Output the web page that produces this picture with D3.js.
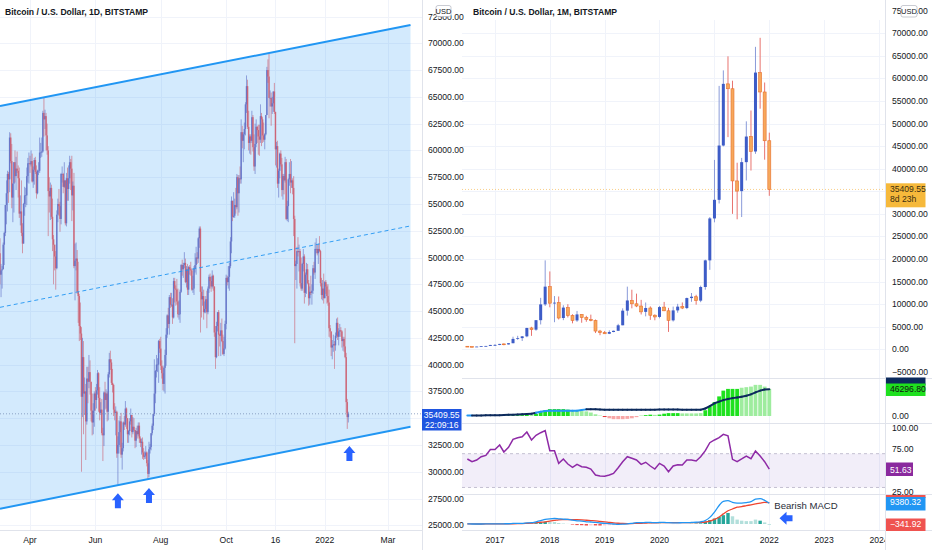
<!DOCTYPE html>
<html>
<head>
<meta charset="utf-8">
<script src="https://cdn.jsdelivr.net/npm/d3@7"></script>
<style>
	body { margin: 0; background: #fff; }
	svg text { font-family: "Liberation Sans Narrow", "Liberation Sans", sans-serif; fill: #131722; }
</style>
</head>
<body>
<svg id="chart" width="932" height="550"></svg>
<script>
// ---------- daily chart data (thousands of USD), 4 Mar 2021 .. 23 Jan 2022 ----------
const dayStart = new Date(2021, 2, 4);
const dayFirstOpen = 50.4;
const dayClose = [
	48.4,48.8,48.9,51.2,52.3,54.9,56.0,57.8,57.3,61.2,59.0,55.6,56.9,58.9,57.6,58.3,58.1,57.4,54.1,54.3,52.3,51.3,55.0,55.8,55.8,57.6,58.8,58.8,
	58.7,59.0,57.1,58.2,59.1,58.0,56.0,58.1,58.1,59.8,59.8,59.9,63.5,62.9,63.2,61.4,60.0,56.2,55.7,56.5,53.8,51.7,51.2,50.1,49.0,54.0,55.0,54.8,53.6,57.8,
	57.8,56.6,57.2,53.2,57.4,56.4,57.4,58.9,58.3,55.8,56.7,49.2,49.7,49.9,46.8,46.4,43.6,42.9,37.0,40.7,37.3,37.5,34.7,38.7,38.4,39.3,38.4,35.7,34.6,35.7,37.3,
	36.7,37.6,39.2,36.9,35.5,35.8,33.6,33.4,37.4,36.7,37.3,35.6,39.1,40.5,40.2,38.3,38.1,35.8,35.5,35.6,31.7,32.5,33.7,34.7,31.6,32.2,34.6,34.4,35.9,35.0,
	33.5,33.8,34.7,35.3,33.7,34.2,33.9,32.9,33.8,33.5,34.3,33.1,32.7,32.8,31.8,31.4,31.5,31.8,30.8,29.8,32.1,32.3,33.6,34.3,35.4,37.3,39.4,40.0,40.0,42.2,41.5,
	39.9,39.2,38.2,39.7,40.9,42.8,44.6,43.8,46.3,45.6,45.6,44.4,47.8,47.1,47.0,45.9,44.7,44.7,46.8,49.3,48.9,49.3,49.5,47.7,48.9,47.0,49.1,48.9,48.8,47.0,47.1,
	49.0,49.3,50.0,49.9,51.8,52.7,46.8,46.1,46.4,44.9,45.2,46.1,44.9,47.1,48.2,47.8,47.3,48.3,47.3,43.0,40.7,43.6,44.9,42.8,42.7,43.2,42.2,41.0,41.5,43.8,
	48.1,47.7,48.2,49.2,51.5,55.3,53.8,53.9,54.9,54.7,57.5,56.0,57.4,57.3,61.7,60.9,61.5,62.0,64.3,66.0,62.2,60.7,61.3,60.9,63.1,60.3,58.5,60.6,62.2,61.9,61.3,
	61.0,63.2,62.9,61.4,61.0,61.5,63.3,67.5,66.9,64.9,64.9,64.1,64.4,65.5,63.6,60.1,60.4,56.9,58.1,59.7,58.7,56.3,57.6,57.2,58.9,53.6,54.8,57.3,57.8,57.0,
	57.2,56.5,53.6,49.2,49.4,50.6,50.5,50.6,47.6,47.1,49.4,50.1,46.7,48.4,48.9,47.6,46.2,46.8,46.7,46.9,49.0,48.6,50.8,50.8,50.4,50.8,50.6,47.6,46.5,47.1,46.2,
	47.7,47.3,46.4,45.8,43.4,43.1,41.6,41.8,41.9,41.8,42.7,43.9,42.6,43.1,43.2,43.1,42.2,42.4,41.7,40.7,36.5,35.1,35.40955
];
const dayHigh = [
	51.8,49.4,49.2,51.4,52.4,54.9,57.2,58.1,58.0,61.7,61.6,60.6,56.9,58.9,60.0,59.4,59.9,58.6,58.4,55.8,57.2,53.2,55.1,56.6,56.5,58.4,59.3,59.8,
	59.5,60.0,59.7,58.5,59.3,59.4,58.6,58.2,58.9,61.2,60.7,61.2,63.7,64.9,63.8,63.5,62.5,60.4,57.5,57.0,56.8,55.5,52.1,51.2,50.6,54.4,55.5,56.4,55.2,57.9,
	58.5,57.9,58.9,57.2,57.9,58.4,58.6,59.5,59.2,59.5,57.1,57.9,51.3,51.4,50.7,49.6,46.6,45.8,43.5,42.5,42.2,38.8,38.2,39.8,39.8,40.9,40.4,38.2,37.3,36.4,37.5,
	37.9,38.2,39.5,39.3,37.9,36.5,36.8,34.1,37.5,38.4,37.7,37.5,39.3,41.1,41.3,40.5,39.6,38.2,36.4,36.1,35.7,33.3,34.8,35.2,35.5,32.7,34.7,35.2,36.6,36.0,
	35.0,33.9,35.0,35.9,35.3,35.1,35.0,33.9,34.1,34.3,34.6,34.6,33.3,33.1,33.2,32.2,31.9,32.4,31.9,31.1,32.8,32.6,33.6,34.5,35.4,40.5,39.5,40.9,40.6,42.3,42.4,
	42.6,40.4,39.8,39.9,41.4,43.4,44.7,45.3,46.5,46.7,46.7,46.2,48.1,48.1,47.4,48.0,47.1,46.0,47.0,49.4,49.8,49.5,50.5,49.9,49.2,49.4,49.2,49.3,49.6,49.0,48.3,
	49.2,50.4,51.0,50.5,51.9,52.9,52.9,47.3,47.3,47.0,45.9,46.4,46.9,47.3,48.4,48.5,48.2,48.8,48.4,47.3,43.6,44.0,44.9,45.1,42.9,43.9,44.3,42.8,42.6,44.1,
	48.4,48.3,49.2,49.5,51.9,55.7,55.3,56.1,55.5,56.5,57.8,57.7,57.7,58.5,62.9,62.3,61.7,62.6,64.5,67.0,66.6,63.7,61.5,61.5,63.7,63.3,61.5,62.5,62.9,62.3,62.4,
	62.4,64.3,63.5,63.1,62.6,61.6,63.3,67.8,68.5,69.0,65.6,65.4,65.0,65.5,66.3,63.6,60.8,60.9,58.3,59.8,60.0,59.3,57.8,57.8,59.4,59.2,55.3,57.4,58.9,59.2,
	59.0,57.4,57.6,53.9,49.7,51.0,51.9,51.2,50.8,50.0,49.5,50.8,50.3,48.6,49.5,49.4,47.9,47.3,48.3,47.5,49.3,49.6,51.4,51.8,51.2,51.3,52.0,50.7,48.1,47.9,48.5,
	47.8,47.9,47.5,47.5,47.0,43.7,43.1,42.3,42.8,42.2,43.0,44.3,44.4,43.4,43.8,43.5,43.2,42.6,42.6,43.4,41.1,36.8,35.6
];
const dayLow = [
	47.5,46.3,47.1,48.9,49.3,52.0,53.1,54.3,55.1,56.1,58.8,54.6,53.3,54.2,57.0,56.3,57.9,55.6,53.7,53.0,52.0,50.4,51.3,53.9,54.7,54.9,57.0,56.9,
	57.9,58.5,57.0,56.5,56.8,57.8,55.5,55.9,57.7,57.9,59.3,59.4,59.8,61.3,62.0,60.0,59.6,52.0,54.2,53.5,53.6,50.6,47.5,48.8,47.0,48.9,53.3,53.9,52.4,53.1,
	57.0,56.0,56.5,53.0,52.9,55.3,55.3,56.9,56.3,53.4,54.4,49.0,46.0,48.8,46.6,43.9,42.2,42.3,30.0,35.1,33.5,35.3,31.1,34.4,36.4,37.8,37.2,34.7,33.4,33.5,34.2,
	35.7,35.9,37.2,35.6,34.8,35.3,33.4,31.0,32.4,35.8,35.9,34.7,34.8,38.8,39.5,38.1,37.4,35.2,34.8,33.4,31.3,28.8,31.7,32.3,31.3,30.2,31.9,33.9,34.2,34.0,
	32.7,32.7,33.4,34.4,33.2,33.5,33.8,32.2,32.3,33.1,33.3,32.7,32.3,31.6,31.2,31.1,31.2,31.2,30.5,29.3,29.5,31.7,32.0,33.4,33.9,35.2,36.4,38.8,39.3,38.3,41.1,
	39.5,38.7,37.6,37.5,37.3,39.9,42.5,43.4,42.8,45.3,45.4,43.8,44.3,45.8,45.5,45.6,44.4,44.2,43.9,46.7,48.3,48.1,49.0,47.6,47.2,46.5,46.5,48.4,48.3,46.9,46.7,
	46.5,48.6,48.4,49.4,49.5,50.9,43.0,44.4,45.5,44.2,44.8,44.8,43.4,44.7,46.7,47.1,46.8,47.1,46.9,42.6,39.6,40.6,43.1,40.8,41.7,40.8,42.1,40.9,40.8,41.4,
	43.3,47.4,47.1,46.9,49.0,50.4,53.4,53.7,53.7,54.1,54.5,53.9,54.2,56.9,56.9,60.2,58.9,60.1,61.4,63.5,62.0,60.0,59.7,59.6,60.7,59.9,58.1,57.8,60.3,60.7,59.6,
	59.5,60.7,60.4,60.7,60.8,60.1,61.4,63.3,66.3,63.0,64.1,62.3,63.4,63.6,63.4,58.6,58.4,56.5,55.6,57.4,58.5,55.7,55.4,55.9,57.0,53.5,53.4,53.3,56.7,56.0,
	56.5,55.9,52.0,42.0,47.9,47.1,50.1,48.7,47.3,46.9,46.9,48.7,45.7,46.3,46.6,47.5,45.5,45.6,46.5,45.6,46.6,48.4,48.0,50.4,50.2,49.4,50.5,47.3,46.1,46.0,45.7,
	46.2,46.6,45.7,45.5,42.6,42.5,40.8,40.5,41.2,39.6,41.3,42.5,42.3,41.8,42.6,42.6,41.6,41.3,41.2,40.6,35.5,34.0,34.6
];

// channel drawn on the daily chart (dates and prices of its two end points)
const channelDates = [new Date(2021, 2, 4), new Date(2022, 2, 22)];
const channelUpper = [64150, 71700];
const channelLower = [26550, 34200];
const arrowTips = [
	{ date: new Date(2021, 5, 22), price: 28000 },
	{ date: new Date(2021, 6, 21), price: 28480 },
	{ date: new Date(2022, 0, 24), price: 32400 }
];
const dayTickDates = [new Date(2021,3,1), new Date(2021,5,1), new Date(2021,7,1), new Date(2021,9,1), new Date(2021,10,16), new Date(2022,0,1), new Date(2022,2,1)];
const dayTickLabels = ['Apr', 'Jun', 'Aug', 'Oct', '16', '2022', 'Mar'];
const dayPriceTicks = d3.range(25000, 72501, 2500);

// ---------- monthly chart data, Jul 2016 .. Jan 2022 ----------
const monthStart = new Date(2016, 6, 1);
const monthOpen = [
	673,624,575,609,701,745,
	964,970,1190,1080,1350,2300,2480,2870,4730,4350,6450,9950,
	13880,10220,10330,6930,9240,7490,6390,7730,7030,6630,6370,4040,
	3690,3440,3830,4100,5320,8560,10820,10080,9590,8290,9150,7550,
	7170,9350,8530,6410,8620,9450,9140,11350,11650,10780,13800,19700,
	28990,33110,45140,58800,57720,37300,35040,41460,47130,43820,61300,57000,
	46200
];
const monthHigh = [
	704,626,628,720,754,980,
	1153,1200,1290,1370,2790,2990,2930,4750,4980,6470,11400,19700,
	17250,11790,11700,9760,10000,7770,8500,7760,7420,7680,6600,4300,
	4070,4200,4140,5640,9080,13880,13200,12330,10950,10370,9510,7750,
	9600,10500,9180,9460,10070,10380,11450,12470,12080,14100,19860,29300,
	41950,58350,61790,64900,59500,41330,42400,50500,52900,67000,69000,59100,
	47990
];
const monthLow = [
	606,480,568,600,680,744,
	750,920,890,1060,1340,2100,1840,2670,2980,4110,5500,9600,
	9300,6000,6600,6450,7050,5750,6080,5880,6100,6200,3600,3120,
	3400,3370,3780,4090,5320,7460,9070,9340,7710,7300,6520,6430,
	6860,8450,3850,6150,8100,8900,8900,10520,9880,10430,13200,17600,
	28130,32300,44950,47000,30000,28800,29300,37400,39600,43300,53300,42000,
	34000
];
const monthClose = [
	624,575,609,701,745,964,
	970,1190,1080,1350,2300,2480,2870,4730,4350,6450,9950,13880,
	10220,10330,6930,9240,7490,6390,7730,7030,6630,6370,4040,3690,
	3440,3830,4100,5320,8560,10820,10080,9590,8290,9150,7550,7170,
	9350,8530,6410,8620,9450,9140,11350,11650,10780,13800,19700,28990,
	33110,45140,58800,57720,37300,35040,41460,47130,43820,61300,57000,46200,
	35409.55
];

// second pane (thousands): histogram, its tone, and the line with its tone
const bandBars = [
	0.3,0.2,0.2,0.4,0.5,0.8,0.6,0.7,0.6,0.8,1.2,1.4,
	1.5,2.5,2.5,3.5,8,10,12,12,12,12,11,
	9,9,8.5,8,6,3,0.8,
	-1.8,-4,-5.5,-5.5,-5.5,-5,-4,-2,
	0.8,1.5,2.3,2,2.5,4,5,5,5,4.5,4.5,4.5,4.5,5,
	10,17,24,34,44,47,47,47,
	49,50,51,54,54,51,47
];
const bandBarTone = 'llbbbblblbbb' + 'bblbbbbbbbb' + 'lllllll' + 'rppppppp' + 'lbblbbbbblllll' + 'bbbbbbbb' + 'lllllll';
const bandLine = [
	0.8,0.8,0.9,1,1.1,1.2,1.4,1.5,1.7,2,2.3,2.6,
	3,3.5,4,5.5,7.5,8.5,9,9.2,9.2,9.2,9.2,9.2,9.3,
	10.5,11.5,11.5,11.5,11.3,11,11,11,11,11,11,10.8,10.8,10.8,10.8,10.8,10.8,11.3,11.3,11.3,11.3,11.3,10.8,10.8,10.8,10.8,10.8,
	13,17,22,25,27.5,29.5,31,32,33.5,35,37.5,41,44,46,46.3
];
const bandLineTone = 'lnnnnnnnnnnnnnnlllllllllllnnnnnnnnnnnnnnnnnnnnnnnnnnnnnnnnnnnnnnnn';
const bandLastValue = 46296.8;

// RSI
const rsi = [
	63.7,60.5,62.5,66.4,68,75,75,80.2,72,77.5,87,88.9,90,95.6,86.2,91.7,94.8,97.2,73.5,73.5,
	58.5,63.7,57.7,53.8,57.4,54.6,53.8,51.8,44.7,43.6,43.2,44.7,46.7,53.4,60.5,66.4,64.5,62.5,57.4,59.8,
	55.4,51.8,58.5,55.4,48.6,55.4,56.9,56.5,62.5,62.5,61.3,66.4,73.5,83,86.2,88.9,92.9,91,63.3,60.5,
	63.7,67.2,64,73.1,67.2,60.5,51.63
];

// MACD (thousands)
const macd = [
	0.02,0.01,0,0.01,0.03,0.06,0.08,0.09,0.1,0.12,0.25,0.3,
	0.3,0.5,0.6,1.0,1.5,2.05,2.35,2.5,2.35,2.2,2.05,1.75,1.45,1.3,1.0,0.9,0.75,0.45,0.3,0.15,
	0,-0.15,-0.1,0.05,0.3,0.6,0.6,0.7,0.7,0.6,0.7,0.7,0.6,0.55,0.55,0.6,0.6,0.7,0.8,1.0,
	1.6,3.0,5.4,8.4,10.3,10.6,9.8,9.5,9.5,9.7,10.1,11.3,11.5,10.7,9.38032
];
const macdSignal = [
	0.02,0.02,0.01,0.01,0.02,0.03,0.05,0.06,0.07,0.08,0.12,0.16,
	0.2,0.3,0.4,0.6,0.8,1.0,1.3,1.6,1.9,2.0,2.05,2.0,1.95,1.85,1.7,1.55,1.4,1.15,0.95,0.7,
	0.5,0.35,0.25,0.2,0.2,0.3,0.35,0.45,0.5,0.55,0.58,0.6,0.6,0.6,0.6,0.6,0.6,0.6,0.6,0.7,
	0.9,1.3,2.1,3.2,4.6,6.0,6.8,7.6,7.9,8.3,8.7,9.1,9.5,9.8,9.72
];
const macdHist = [
	0,0,0,0,0.01,0.03,0.03,0.03,0.03,0.04,0.13,0.14,
	0.1,0.2,0.2,0.4,0.7,1.05,1.05,0.9,0.45,0.2,0.05,
	-0.25,-0.5,-0.55,-0.7,-0.65,-0.65,-0.7,-0.65,-0.55,-0.5,-0.5,-0.35,-0.15,
	0.1,0.3,0.25,0.25,0.2,0.05,0.1,0.1,0,-0.05,-0.05,0,0,0.1,0.2,0.3,
	1.0,1.8,2.5,3.2,4.0,5.0,3.5,2.0,1.5,1.3,1.3,2.0,1.5,0.7,-0.34192
];
const macdHistTone = 'tttttttttttt' + 'ddddddttttt' + 'rrrrqrrqqqqqq' + 'ddttttdttqqddddd' + 'ddddddttttttdttr';

const yearTickLabels = ['2017', '2018', '2019', '2020', '2021', '2022', '2023', '2024'];
const monthPriceTicks = d3.range(-5000, 75001, 5000);
const rsiTicks = [100, 75, 25];

// ---------- drawing ----------
const svg = d3.select('#chart');
const gridColor = '#f0f3fa';
const borderColor = '#e0e3eb';
const channelBlue = '#2196f3';
const arrowBlue = '#2962ff';
const fmt = d3.format('.2f');

const defs = svg.append('defs');
function addClip(id, x, y, w, h) {
	defs.append('clipPath').attr('id', id)
		.append('rect').attr('x', x).attr('y', y).attr('width', w).attr('height', h);
}
addClip('clip-left', 0, 0, 422, 530);
addClip('clip-right-main', 462, 20, 424, 358);
addClip('clip-right-band', 462, 378, 424, 45);
addClip('clip-right-rsi', 462, 423, 424, 71);
addClip('clip-right-macd', 462, 494, 424, 36);
addClip('clip-right-time', 462, 530, 423, 20);

// ===== left: daily chart =====
const xDay = d3.scaleTime()
	.domain([new Date(2021, 3, 1), new Date(2022, 2, 1)])
	.range([30, 388]);
const yDay = d3.scaleLinear()
	.domain([25000, 70000])
	.range([525.3, 43.3]);

const left = svg.append('g');
const leftPlot = left.append('g').attr('clip-path', 'url(#clip-left)');

leftPlot.selectAll('.hgrid').data(dayPriceTicks).enter()
	.append('line')
	.attr('x1', 0).attr('x2', 422)
	.attr('y1', d => Math.round(yDay(d)) + 0.5).attr('y2', d => Math.round(yDay(d)) + 0.5)
	.style('stroke', gridColor);
leftPlot.selectAll('.vgrid').data(dayTickDates).enter()
	.append('line')
	.attr('x1', d => Math.round(xDay(d)) + 0.5).attr('x2', d => Math.round(xDay(d)) + 0.5)
	.attr('y1', 0).attr('y2', 530)
	.style('stroke', gridColor);

// channel fill and lines
let chPts = [
	[xDay(channelDates[0]), yDay(channelUpper[0])],
	[xDay(channelDates[1]), yDay(channelUpper[1])],
	[xDay(channelDates[1]), yDay(channelLower[1])],
	[xDay(channelDates[0]), yDay(channelLower[0])]
];
leftPlot.append('path')
	.attr('d', 'M' + chPts.map(p => p.join(',')).join('L') + 'Z')
	.style('fill', 'rgba(33,150,243,0.2)');

const chLine = d3.line().x(d => xDay(d[0])).y(d => yDay(d[1]));
let upperPts = channelDates.map((d, i) => [d, channelUpper[i]]);
let lowerPts = channelDates.map((d, i) => [d, channelLower[i]]);
let midPts = channelDates.map((d, i) => [d, (channelUpper[i] + channelLower[i]) / 2]);

// candles
let dayCandles = dayClose.map(function(c, i) {
	return {
		date: d3.timeDay.offset(dayStart, i),
		open: (i == 0 ? dayFirstOpen : dayClose[i - 1]) * 1000,
		high: dayHigh[i] * 1000,
		low: dayLow[i] * 1000,
		close: c * 1000
	};
});
const dayUp = '#5d6cc4';
const dayDown = '#cc5a6c';
let dc = leftPlot.append('g').selectAll('g').data(dayCandles).enter().append('g');
dc.append('line')
	.attr('x1', d => xDay(d.date)).attr('x2', d => xDay(d.date))
	.attr('y1', d => yDay(Math.max(d.high, d.open, d.close)))
	.attr('y2', d => yDay(Math.min(d.low, d.open, d.close)))
	.style('stroke', d => d.close >= d.open ? dayUp : dayDown)
	.style('stroke-width', 0.8)
	.style('opacity', 0.75);
dc.append('rect')
	.attr('x', d => xDay(d.date) - 0.75)
	.attr('width', 1.5)
	.attr('y', d => yDay(Math.max(d.open, d.close)))
	.attr('height', d => Math.max(0.6, Math.abs(yDay(d.open) - yDay(d.close))))
	.style('fill', d => d.close >= d.open ? dayUp : dayDown)
	.style('opacity', 0.8);

leftPlot.append('path').attr('d', chLine(upperPts))
	.style('stroke', channelBlue).style('stroke-width', 2).style('fill', 'none');
leftPlot.append('path').attr('d', chLine(lowerPts))
	.style('stroke', channelBlue).style('stroke-width', 2).style('fill', 'none');
leftPlot.append('path').attr('d', chLine(midPts))
	.style('stroke', channelBlue).style('stroke-width', 1).style('stroke-dasharray', '4,3').style('fill', 'none')
	.style('opacity', 0.9);

// last price dotted line
let lastDay = dayCandles[dayCandles.length - 1];
leftPlot.append('line')
	.attr('x1', 0).attr('x2', 422)
	.attr('y1', yDay(lastDay.close)).attr('y2', yDay(lastDay.close))
	.style('stroke', '#7b8fb8').style('stroke-width', 0.8).style('stroke-dasharray', '1,2');

// arrows up
leftPlot.selectAll('.arrow').data(arrowTips).enter()
	.append('path')
	.attr('transform', d => 'translate(' + xDay(d.date) + ',' + yDay(d.price) + ')')
	.attr('d', 'M0,0L6,7L3,7L3,15L-3,15L-3,7L-6,7Z')
	.style('fill', arrowBlue);

// left borders and axes
left.append('line').attr('x1', 422.5).attr('x2', 422.5).attr('y1', 0).attr('y2', 550).style('stroke', borderColor);
left.append('line').attr('x1', 0).attr('x2', 422).attr('y1', 530.5).attr('y2', 530.5).style('stroke', borderColor);

// price labels hidden under the last price box are not drawn
let leftBoxY = 409, leftBoxH = 21.5;
left.selectAll('.plabel').data(dayPriceTicks.filter(function(d) {
		let y = yDay(d);
		return y + 3 < leftBoxY || y - 4 > leftBoxY + leftBoxH;
	})).enter()
	.append('text')
	.attr('x', 428).attr('y', d => yDay(d) + 3)
	.style('font-size', '8.6px')
	.text(d => fmt(d));
left.selectAll('.tlabel').data(dayTickDates).enter()
	.append('text')
	.attr('x', d => xDay(d)).attr('y', 542.5)
	.attr('text-anchor', 'middle')
	.style('font-size', '8.6px')
	.text((d, i) => dayTickLabels[i]);

// last price label
left.append('rect').attr('x', 422).attr('y', leftBoxY).attr('width', 39.5).attr('height', leftBoxH).style('fill', '#1f55e0');
left.append('text').attr('x', 441.7).attr('y', 418).attr('text-anchor', 'middle')
	.style('font-size', '8.6px').style('fill', '#fff').text(fmt(lastDay.close));
left.append('text').attr('x', 441.7).attr('y', 427.5).attr('text-anchor', 'middle')
	.style('font-size', '8.6px').style('fill', '#fff').text('22:09:16');

// USD box + title
left.append('rect').attr('x', 436).attr('y', 5.5).attr('width', 15).attr('height', 11).attr('rx', 2)
	.style('fill', '#fff').style('stroke', '#b2b5be').style('stroke-width', 0.7);
left.append('text').attr('x', 443.5).attr('y', 13.8).attr('text-anchor', 'middle').style('font-size', '7.5px').text('USD');
left.append('text').attr('x', 5).attr('y', 14.5)
	.style('font-size', '8.6px').style('font-weight', 'bold')
	.text('Bitcoin / U.S. Dollar, 1D, BITSTAMP');

// ===== right: monthly chart =====
const xMonth = d3.scaleTime()
	.domain([new Date(2017, 0, 1), new Date(2022, 0, 1)])
	.range([495, 769.3]);
const yMain = d3.scaleLinear().domain([0, 70000]).range([349.3, 33.3]);
const yBand = d3.scaleLinear().domain([0, 46296.8]).range([416, 389.3]);
const yRsi = d3.scaleLinear().domain([25, 100]).range([491.7, 428.3]);
const yMacd = d3.scaleLinear().domain([0, 9380.32]).range([524, 503.3]);

const right = svg.append('g');
let yearDates = yearTickLabels.map(y => new Date(+y, 0, 1));
let monthDates = monthClose.map((c, i) => d3.timeMonth.offset(monthStart, i));

// grids
right.append('g').selectAll('line').data(monthPriceTicks.filter(v => v >= 0 && v <= 70000)).enter()
	.append('line')
	.attr('x1', 462).attr('x2', 886)
	.attr('y1', d => Math.round(yMain(d)) + 0.5).attr('y2', d => Math.round(yMain(d)) + 0.5)
	.style('stroke', gridColor);
right.append('g').selectAll('line').data(yearDates.filter(d => xMonth(d) < 886)).enter()
	.append('line')
	.attr('x1', d => Math.round(xMonth(d)) + 0.5).attr('x2', d => Math.round(xMonth(d)) + 0.5)
	.attr('y1', 20).attr('y2', 530)
	.style('stroke', gridColor);

// main pane candles
const mUpBody = '#3d5cc7';
const mUpWick = '#8a9bd9';
const mDownBody = '#f6a85c';
const mDownEdge = '#e8702e';
const mDownWick = '#e8736f';
let monthCandles = monthClose.map(function(c, i) {
	return { date: monthDates[i], open: monthOpen[i], high: monthHigh[i], low: monthLow[i], close: c };
});
let mainPane = right.append('g').attr('clip-path', 'url(#clip-right-main)');

let lastMonth = monthCandles[monthCandles.length - 1];
mainPane.append('line')
	.attr('x1', 462).attr('x2', 886)
	.attr('y1', yMain(lastMonth.close)).attr('y2', yMain(lastMonth.close))
	.style('stroke', '#f7c46c').style('stroke-width', 0.8).style('stroke-dasharray', '1,2');

let mc = mainPane.selectAll('.mc').data(monthCandles).enter().append('g');
mc.append('line')
	.attr('x1', d => xMonth(d.date)).attr('x2', d => xMonth(d.date))
	.attr('y1', d => yMain(d.high)).attr('y2', d => yMain(d.low))
	.style('stroke', d => d.close >= d.open ? mUpWick : mDownWick)
	.style('stroke-width', 1);
mc.append('rect')
	.attr('x', d => xMonth(d.date) - 1.5)
	.attr('width', 3)
	.attr('y', d => yMain(Math.max(d.open, d.close)))
	.attr('height', d => Math.max(0.8, Math.abs(yMain(d.open) - yMain(d.close))))
	.style('fill', d => d.close >= d.open ? mUpBody : mDownBody)
	.style('stroke', d => d.close >= d.open ? 'none' : mDownEdge)
	.style('stroke-width', 0.6);

// band pane
let bandPane = right.append('g').attr('clip-path', 'url(#clip-right-band)');
const bandColors = { b: '#1ee11e', l: '#9eec9e', p: '#f7a7a7', r: '#e33b3b' };
bandPane.selectAll('rect').data(bandBars).enter()
	.append('rect')
	.attr('x', (d, i) => xMonth(monthDates[i]) - 1.9)
	.attr('width', 3.8)
	.attr('y', d => yBand(Math.max(0, d * 1000)))
	.attr('height', d => Math.abs(yBand(d * 1000) - yBand(0)))
	.style('fill', (d, i) => bandColors[bandBarTone[i]]);
bandLine.forEach(function(v, i) {
	if (i == bandLine.length - 1) return;
	bandPane.append('line')
		.attr('x1', xMonth(monthDates[i])).attr('x2', xMonth(monthDates[i + 1]))
		.attr('y1', yBand(v * 1000)).attr('y2', yBand(bandLine[i + 1] * 1000))
		.style('stroke', bandLineTone[i] == 'l' ? '#2196f3' : '#0c2a5c')
		.style('stroke-width', 2)
		.style('stroke-linecap', 'round');
});

// rsi pane
let rsiPane = right.append('g').attr('clip-path', 'url(#clip-right-rsi)');
rsiPane.append('rect')
	.attr('x', 462).attr('width', 424)
	.attr('y', yRsi(70)).attr('height', yRsi(30) - yRsi(70))
	.style('fill', 'rgba(126,87,194,0.1)');
[70, 30].forEach(function(v) {
	rsiPane.append('line')
		.attr('x1', 462).attr('x2', 886)
		.attr('y1', yRsi(v)).attr('y2', yRsi(v))
		.style('stroke', '#b6b3c7').style('stroke-dasharray', '3,3').style('stroke-width', 0.8);
});
rsiPane.append('path')
	.datum(rsi)
	.attr('d', d3.line().x((d, i) => xMonth(monthDates[i])).y(d => yRsi(d)))
	.style('fill', 'none').style('stroke', '#8e2aa6').style('stroke-width', 1.5);

// macd pane
let macdPane = right.append('g').attr('clip-path', 'url(#clip-right-macd)');
const histColors = { d: '#26a69a', t: '#b2dfdb', r: '#ef5350', q: '#ffcdd2' };
macdPane.selectAll('rect').data(macdHist).enter()
	.append('rect')
	.attr('x', (d, i) => xMonth(monthDates[i]) - 1.7)
	.attr('width', 3.4)
	.attr('y', d => yMacd(Math.max(0, d * 1000)))
	.attr('height', d => Math.abs(yMacd(d * 1000) - yMacd(0)))
	.style('fill', (d, i) => histColors[macdHistTone[i]]);
const mLine = d3.line().x((d, i) => xMonth(monthDates[i])).y(d => yMacd(d * 1000)).curve(d3.curveMonotoneX);
macdPane.append('path').datum(macdSignal).attr('d', mLine)
	.style('fill', 'none').style('stroke', '#f0452f').style('stroke-width', 1.3);
macdPane.append('path').datum(macd).attr('d', mLine)
	.style('fill', 'none').style('stroke', '#2196f3').style('stroke-width', 1.3);

// bearish annotation
macdPane.append('path')
	.attr('transform', 'translate(' + xMonth(new Date(2022, 2, 10)) + ',' + yMacd(2600) + ')')
	.attr('d', 'M0,0L7,-6.5L7,-3L13,-3L13,3L7,3L7,6.5Z')
	.style('fill', arrowBlue);
right.append('text')
	.attr('x', xMonth(new Date(2022, 1, 3))).attr('y', yMacd(8300) + 3)
	.style('font-size', '9.6px').style('fill', '#2a2e39')
	.text('Bearish MACD');

// pane separators and borders
[378.5, 423.5, 494.5, 530.5].forEach(function(y) {
	right.append('line').attr('x1', 462).attr('x2', 932).attr('y1', y).attr('y2', y).style('stroke', borderColor);
});
right.append('line').attr('x1', 885.5).attr('x2', 885.5).attr('y1', 0).attr('y2', 550).style('stroke', borderColor);

// right price axis (ticks under the last price box are not drawn)
let rightBoxY = 183.3, rightBoxH = 24;
right.selectAll('.mlabel').data(monthPriceTicks.filter(function(d) {
		let y = yMain(d);
		return y + 3 < rightBoxY || y - 4 > rightBoxY + rightBoxH;
	})).enter()
	.append('text')
	.attr('x', 892).attr('y', d => yMain(d) + 3)
	.style('font-size', '8.6px')
	.text(d => fmt(d));
right.append('text').attr('x', 892).attr('y', yBand(0) + 3).style('font-size', '8.6px').text('0.00');
right.selectAll('.rlabel').data(rsiTicks).enter()
	.append('text')
	.attr('x', 892).attr('y', d => yRsi(d) + 3)
	.style('font-size', '8.6px')
	.text(d => fmt(d));

// value labels on the right axis
function valueBox(y, h, fill, txtColor, lines) {
	right.append('rect').attr('x', 886).attr('y', y).attr('width', 39.5).attr('height', h).style('fill', fill);
	lines.forEach(function(t, i) {
		right.append('text').attr('x', 890).attr('y', y + 8.2 + i * 10)
			.style('font-size', '8.6px').style('fill', txtColor).text(t);
	});
}
valueBox(rightBoxY, rightBoxH, '#f6b93b', '#3b2f10', [fmt(lastMonth.close), '8d 23h']);
valueBox(377.5, 8, '#0c2a5c', '#fff', []);
valueBox(383.5, 12.5, '#1fe01f', '#111', [fmt(bandLastValue)]);
right.append('rect').attr('x', 886).attr('y', 462.5).attr('width', 27).attr('height', 13.5).style('fill', '#8a2a9e');
right.append('text').attr('x', 890).attr('y', 472.5).style('font-size', '8.6px').style('fill', '#fff').text(fmt(rsi[rsi.length - 1]));
valueBox(495, 3, '#ef5350', '#fff', []);
valueBox(497, 13.5, '#2196f3', '#fff', [fmt(macd[macd.length - 1] * 1000)]);
valueBox(518.5, 12.5, '#ef5350', '#fff', [fmt(macdHist[macdHist.length - 1] * 1000)]);

// time axis
right.append('g').attr('clip-path', 'url(#clip-right-time)')
	.selectAll('text').data(yearDates).enter()
	.append('text')
	.attr('x', d => xMonth(d)).attr('y', 543)
	.attr('text-anchor', 'middle')
	.style('font-size', '8.6px')
	.text((d, i) => yearTickLabels[i]);

// USD box + title
right.append('rect').attr('x', 901).attr('y', 5.5).attr('width', 16).attr('height', 11.5).attr('rx', 2)
	.style('fill', '#fff').style('stroke', '#b2b5be').style('stroke-width', 0.7);
right.append('text').attr('x', 909).attr('y', 14).attr('text-anchor', 'middle').style('font-size', '7.5px').text('USD');
right.append('text').attr('x', 473).attr('y', 14.5)
	.style('font-size', '8.6px').style('font-weight', 'bold')
	.text('Bitcoin / U.S. Dollar, 1M, BITSTAMP');
</script>
</body>
</html>
